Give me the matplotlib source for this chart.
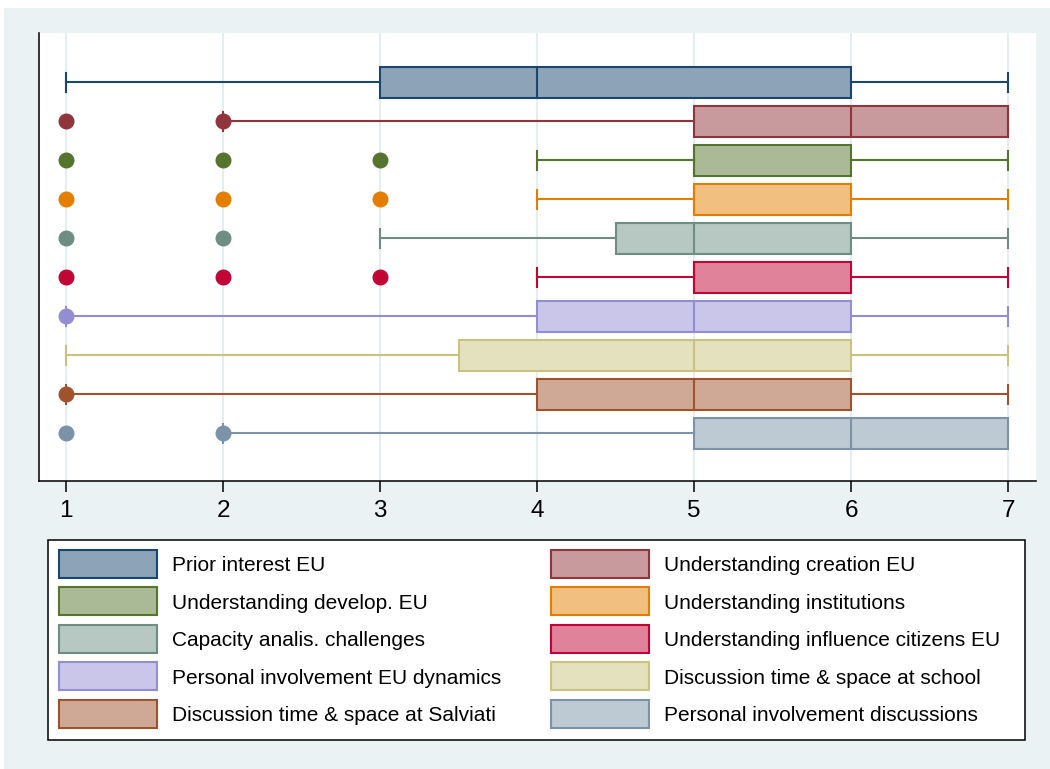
import matplotlib
matplotlib.use("Agg")
import matplotlib.pyplot as plt
from matplotlib.patches import Patch, Rectangle
from matplotlib.legend_handler import HandlerPatch
from matplotlib.colors import to_rgb

# Survey items (1-7 scale), drawn top to bottom
labels = [
    "Prior interest EU",
    "Understanding creation EU",
    "Understanding develop. EU",
    "Understanding institutions",
    "Capacity analis. challenges",
    "Understanding influence citizens EU",
    "Personal involvement EU dynamics",
    "Discussion time & space at school",
    "Discussion time & space at Salviati",
    "Personal involvement discussions",
]
whisker_low = [1, 2, 4, 4, 3, 4, 1, 1, 1, 2]
quartile1 = [3, 5, 5, 5, 4.5, 5, 4, 3.5, 4, 5]
medians = [4, 6, 5, 5, 5, 5, 5, 5, 5, 6]
quartile3 = [6, 7, 6, 6, 6, 6, 6, 6, 6, 7]
whisker_high = [7, 7, 7, 7, 7, 7, 7, 7, 7, 7]
outliers = [[], [1, 2], [1, 2, 3], [1, 2, 3], [1, 2], [1, 2, 3], [1], [], [1], [1, 2]]
x_ticks = [1, 2, 3, 4, 5, 6, 7]

line_colors = ["#1a476f", "#90353b", "#55752f", "#e37e00", "#6e8e84",
               "#c10534", "#938dd2", "#cac27e", "#a0522d", "#7b92a8"]


def lighten(c, f=0.5):
    r, g, b = to_rgb(c)
    return (r + (1 - r) * f, g + (1 - g) * f, b + (1 - b) * f)


fill_colors = [lighten(c) for c in line_colors]

plt.rcParams["font.family"] = ["Liberation Sans", "DejaVu Sans"]

W, H = 1050, 769
fig = plt.figure(figsize=(W / 100, H / 100), dpi=100, facecolor="white")

# graph region background
fig.patches.append(Rectangle((4 / W, 0), 1 - 4 / W, 1 - 8 / H, transform=fig.transFigure,
                             facecolor="#EAF2F3", edgecolor="none", zorder=-10))

ax = fig.add_axes([39 / W, 1 - 481 / H, (1036 - 39) / W, (481 - 33) / H])
ax.set_facecolor("white")

stats = []
for i in range(len(labels)):
    stats.append(dict(whislo=whisker_low[i], q1=quartile1[i], med=medians[i],
                      q3=quartile3[i], whishi=whisker_high[i], fliers=outliers[i]))

positions = list(range(len(labels)))
res = ax.bxp(stats, positions=positions, orientation="horizontal", widths=0.8,
             capwidths=0.49, patch_artist=True, manage_ticks=False, zorder=3)

for i, col in enumerate(line_colors):
    box = res["boxes"][i]
    box.set_facecolor(fill_colors[i])
    box.set_edgecolor(col)
    box.set_linewidth(1.5)
    res["medians"][i].set_color(col)
    res["medians"][i].set_linewidth(1.5)
    for k in (2 * i, 2 * i + 1):
        res["whiskers"][k].set_color(col)
        res["whiskers"][k].set_linewidth(1.5)
        res["caps"][k].set_color(col)
        res["caps"][k].set_linewidth(1.5)
    fl = res["fliers"][i]
    fl.set_marker("o")
    fl.set_markersize(10.5)
    fl.set_markerfacecolor(col)
    fl.set_markeredgecolor(col)
    fl.set_zorder(4)

ax.set_xlim(0.826, 7.178)
ax.set_ylim(10.23, -1.27)
ax.set_xticks(x_ticks)
ax.set_xticklabels([str(t) for t in x_ticks], fontsize=17.5)
ax.set_yticks([])
ax.tick_params(axis="x", length=8, width=1.1, pad=6, colors="black")
ax.grid(axis="x", color="#E4EEF0", linewidth=1.4, zorder=0)
ax.set_axisbelow(True)
for side in ("top", "right"):
    ax.spines[side].set_visible(False)
for side in ("left", "bottom"):
    ax.spines[side].set_linewidth(1.1)
    ax.spines[side].set_color("black")

# legend frame
fig.patches.append(Rectangle((48 / W, 1 - 739.5 / H), 977 / W, 199.5 / H,
                             transform=fig.transFigure, facecolor="white",
                             edgecolor="black", linewidth=1.1, zorder=1))

KEY_H = 28 * 72 / 100  # key height in points


def tall_key(legend, orig_handle, xdescent, ydescent, width, height, fontsize):
    return Rectangle((-xdescent, -ydescent + (height - KEY_H) / 2), width, KEY_H)


handles = [Patch(facecolor=fill_colors[i], edgecolor=line_colors[i], linewidth=1.5)
           for i in range(len(labels))]
fs = 15
fpx = fs * 100 / 72
leg_kw = dict(loc="upper left", fontsize=fs, frameon=False, borderpad=0,
              borderaxespad=0, handlelength=98 / fpx,
              labelspacing=0.89, handletextpad=15.3 / fpx,
              handler_map={Patch: HandlerPatch(patch_func=tall_key)},
              bbox_transform=fig.transFigure)
left_idx = [0, 2, 4, 6, 8]
right_idx = [1, 3, 5, 7, 9]
fig.legend([handles[i] for i in left_idx], [labels[i] for i in left_idx],
           bbox_to_anchor=(59 / W, 1 - 556 / H), **leg_kw)
fig.legend([handles[i] for i in right_idx], [labels[i] for i in right_idx],
           bbox_to_anchor=(551 / W, 1 - 556 / H), **leg_kw)

fig.savefig("out.png", dpi=100, facecolor="white")
